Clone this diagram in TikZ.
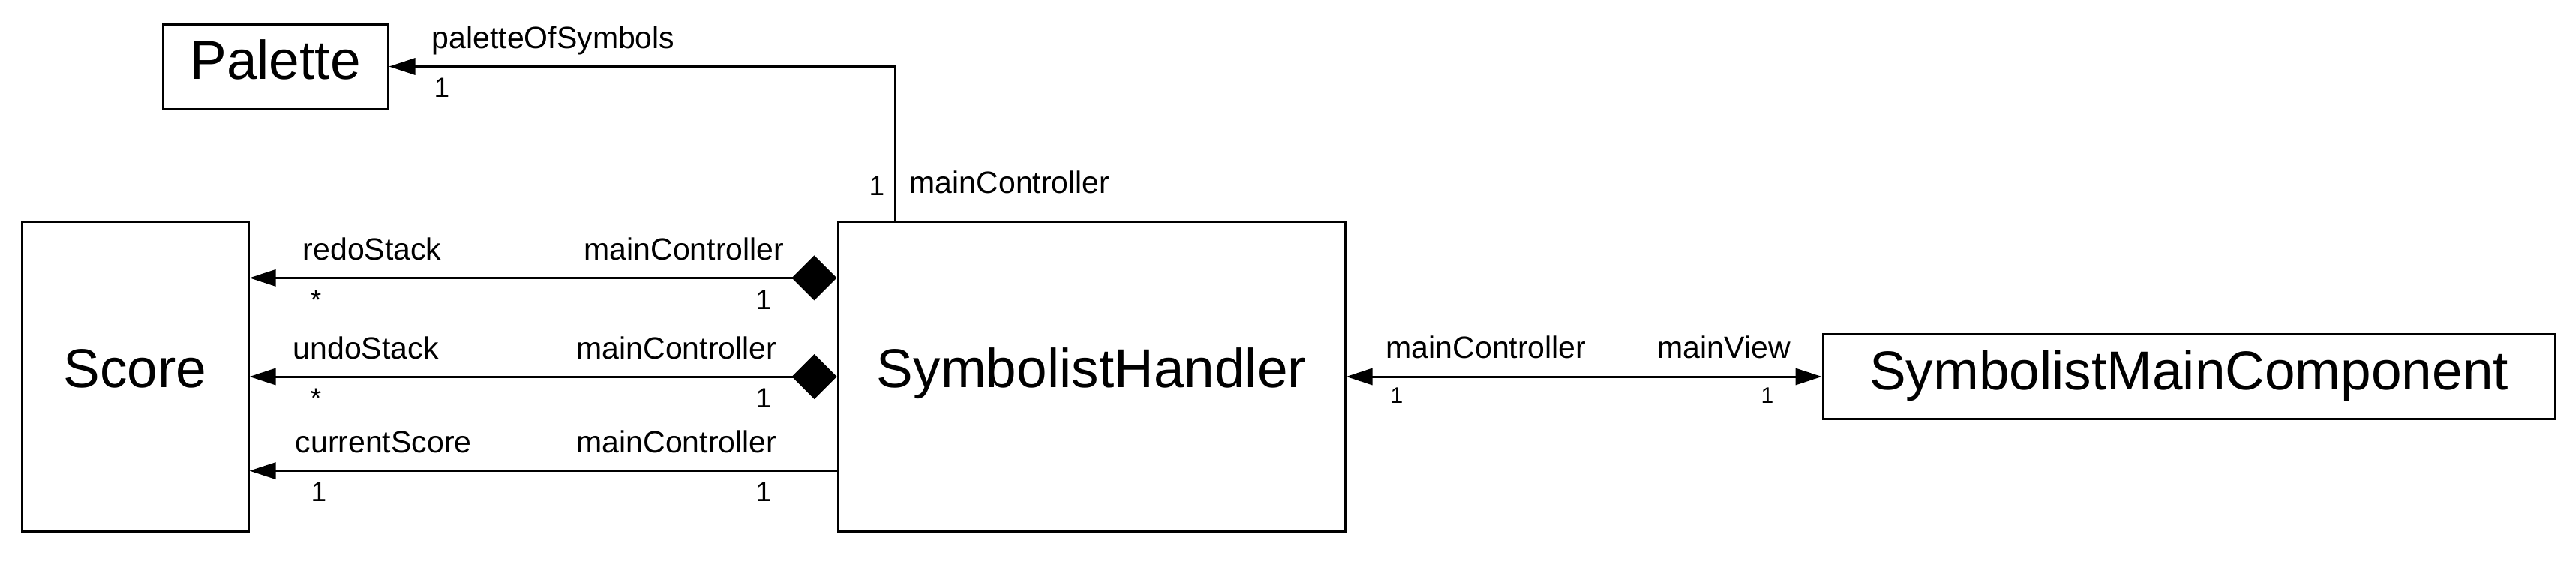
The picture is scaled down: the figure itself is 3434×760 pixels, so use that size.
\documentclass[tikz,border=0pt]{standalone}
\usepackage{fontspec}
\setmainfont{Liberation Sans}
\usetikzlibrary{arrows.meta}

\begin{document}
\begin{tikzpicture}[x=0.25pt, y=-0.25pt,
    cls/.style={rectangle, draw, line width=0.75pt, inner sep=0pt, text height=13pt, text depth=6pt, font=\fontsize{18.25}{20}\selectfont},
    lbl/.style={inner sep=0pt, font=\fontsize{10.25}{12}\selectfont},
    mult/.style={inner sep=0pt, font=\fontsize{9.25}{11}\selectfont},
    smallmult/.style={inner sep=0pt, font=\fontsize{7.5}{9}\selectfont},
    assoc/.style={line width=0.75pt, -{Triangle[length=8.75pt,width=5.5pt]}},
    comp/.style={line width=0.75pt, {Diamond[length=15pt,width=15pt]}-{Triangle[length=8.75pt,width=5.5pt]}},
    both/.style={line width=0.75pt, {Triangle[length=8.75pt,width=5.5pt]}-{Triangle[length=8.75pt,width=5.5pt]}}]
    \useasboundingbox (0,0) rectangle (3434,760);

    % classes
    \node (palette) [cls, text depth=4.5pt, minimum width=75pt, minimum height=28.25pt] at (367,88.5) {Palette};
    \node (score) [cls, minimum width=75.5pt, minimum height=103.25pt] at (180,502) {Score};
    \node (handler) [cls, minimum width=169pt, minimum height=103.25pt] at (1455,502) {SymbolistHandler};
    \node (smc) [cls, text depth=4.5pt, minimum width=244pt, minimum height=28.25pt] at (2918,502) {SymbolistMainComponent};

    % associations
    \draw [assoc] ([xshift=19.5pt]handler.north west) |- (palette.east);
    \draw [comp] ([yshift=32.9pt]handler.west) -- ([yshift=32.9pt]score.east);
    \draw [comp] (handler.west) -- (score.east);
    \draw [assoc] ([yshift=-31.4pt]handler.west) -- ([yshift=-31.4pt]score.east);
    \draw [both] (handler.east) -- (smc.west);

    % role names and multiplicities
    \node (paletteRole) [lbl, anchor=base west] at (575,65) {paletteOfSymbols};
    \node (paletteMult) [mult, anchor=base] at (589,129) {1};
    \node (paletteOne) [mult, anchor=base] at (1169,260) {1};
    \node (paletteOwner) [lbl, anchor=base west] at (1212,257) {mainController};

    \node (redoRole) [lbl, anchor=base west] at (403,346) {redoStack};
    \node (redoOwner) [lbl, anchor=base east] at (1046,346) {mainController};
    \node (redoMult) [mult, anchor=base] at (421,412) {*};
    \node (redoOne) [mult, anchor=base] at (1018,412) {1};

    \node (undoRole) [lbl, anchor=base west] at (390,478) {undoStack};
    \node (undoOwner) [lbl, anchor=base east] at (1036,478) {mainController};
    \node (undoMult) [mult, anchor=base] at (421,543) {*};
    \node (undoOne) [mult, anchor=base] at (1018,543) {1};

    \node (curRole) [lbl, anchor=base west] at (393,603) {currentScore};
    \node (curOwner) [lbl, anchor=base east] at (1036,603) {mainController};
    \node (curMult) [mult, anchor=base] at (425,668) {1};
    \node (curOne) [mult, anchor=base] at (1018,668) {1};

    \node (viewOwner) [lbl, anchor=base west] at (1847,477) {mainController};
    \node (viewRole) [lbl, anchor=base west] at (2209,477) {mainView};
    \node (viewOne) [smallmult, anchor=base] at (1862,537) {1};
    \node (viewMult) [smallmult, anchor=base] at (2356,537) {1};
\end{tikzpicture}
\end{document}
